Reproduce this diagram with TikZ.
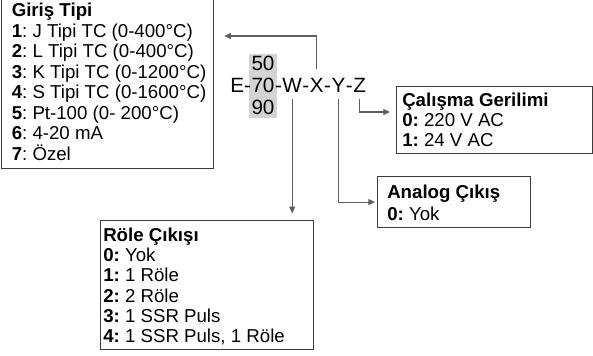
\documentclass[tikz,border=0pt]{standalone}
\usepackage{fontspec}
\setmainfont{Liberation Sans}
\usetikzlibrary{arrows.meta,positioning,calc}
\definecolor{lineGray}{RGB}{95,95,95}
\definecolor{boxGray}{RGB}{60,60,60}
\definecolor{numGray}{RGB}{212,212,212}
\newcommand{\boxfont}[1]{\fontsize{14}{#1}\selectfont\frenchspacing}
\newcommand{\codefont}{\fontsize{15.5}{16.5}\selectfont}
\newcommand{\firstline}{\rule{0pt}{13pt}}

\begin{document}
\begin{tikzpicture}[x=0.75pt,y=-0.75pt,
  frame/.style={draw=boxGray, line width=0.9pt, anchor=north west, inner sep=0pt},
  boxtext/.style={anchor=north west, align=left, inner sep=0pt},
  code/.style={inner sep=0pt, font=\codefont},
  conn/.style={draw=lineGray, line width=0.8pt, -{Triangle[length=5pt,width=4.5pt]}}]
  \useasboundingbox (0,0) rectangle (593,356);

  % option boxes
  \node[frame, minimum width=159pt, minimum height=128.25pt] (giris) at (1,-3) {};
  \node[boxtext, font=\boxfont{15.4pt}] (giristext) at (11.5,-0.8)
    {\firstline\textbf{Giriş Tipi}\\
     \textbf{1}: J Tipi TC (0-400°C)\\
     \textbf{2}: L Tipi TC (0-400°C)\\
     \textbf{3}: K Tipi TC (0-1200°C)\\
     \textbf{4}: S Tipi TC (0-1600°C)\\
     \textbf{5}: Pt-100 (0- 200°C)\\
     \textbf{6}: 4-20 mA\\
     \textbf{7}: Özel};

  \node[frame, minimum width=159.5pt, minimum height=96.75pt] (role) at (100,220) {};
  \node[boxtext, font=\boxfont{15.2pt}] (roletext) at (103,223.7)
    {\firstline\textbf{Röle Çıkışı}\\
     \textbf{0:} Yok\\
     \textbf{1:} 1 Röle\\
     \textbf{2:} 2 Röle\\
     \textbf{3:} 1 SSR Puls\\
     \textbf{4:} 1 SSR Puls, 1 Röle};

  \node[frame, minimum width=147pt, minimum height=50.25pt] (calisma) at (396,86) {};
  \node[boxtext, font=\boxfont{14.8pt}] (calismatext) at (402,89.4)
    {\firstline\textbf{Çalışma Gerilimi}\\
     \textbf{0:} 220 V AC\\
     \textbf{1:} 24 V AC};

  \node[frame, minimum width=114.75pt, minimum height=38.25pt] (analog) at (377,176) {};
  \node[boxtext, font=\boxfont{16.3pt}] (analogtext) at (387,181)
    {\firstline\textbf{Analog Çıkış}\\
     \textbf{0:} Yok};

  % model code
  \node[fill=numGray, minimum width=21pt, minimum height=48pt, inner sep=0pt] (numbg) at (263,86) {};
  \node[code, anchor=base] (n50) at (263,71) {50};
  \node[code, anchor=base] (n70) at (263,93) {70};
  \node[code, anchor=base] (n90) at (263,115) {90};
  \node[code, base left=0pt of n70] (e) {E-};
  \node[code, base right=0pt of n70] (d1) {-};
  \node[code, base right=0pt of d1] (w) {W};
  \node[code, base right=0pt of w] (d2) {-};
  \node[code, base right=0pt of d2] (x) {X};
  \node[code, base right=0pt of x] (d3) {-};
  \node[code, base right=0pt of d3] (y) {Y};
  \node[code, base right=0pt of y] (d4) {-};
  \node[code, base right=0pt of d4] (z) {Z};

  % connectors
  \draw[conn, shorten <=7pt] (x.north) |- ($(giris.north east)+(10,39)$);
  \draw[conn, shorten <=4pt, shorten >=5pt] (w.south) -- (w.south |- role.north);
  \draw[conn, shorten <=4pt, shorten >=1.5pt] (y.south) |- (analog.west);
  \draw[conn, shorten <=4pt, shorten >=4.5pt] (z.south) |- ($(calisma.north west)+(0,26)$);
\end{tikzpicture}
\end{document}
